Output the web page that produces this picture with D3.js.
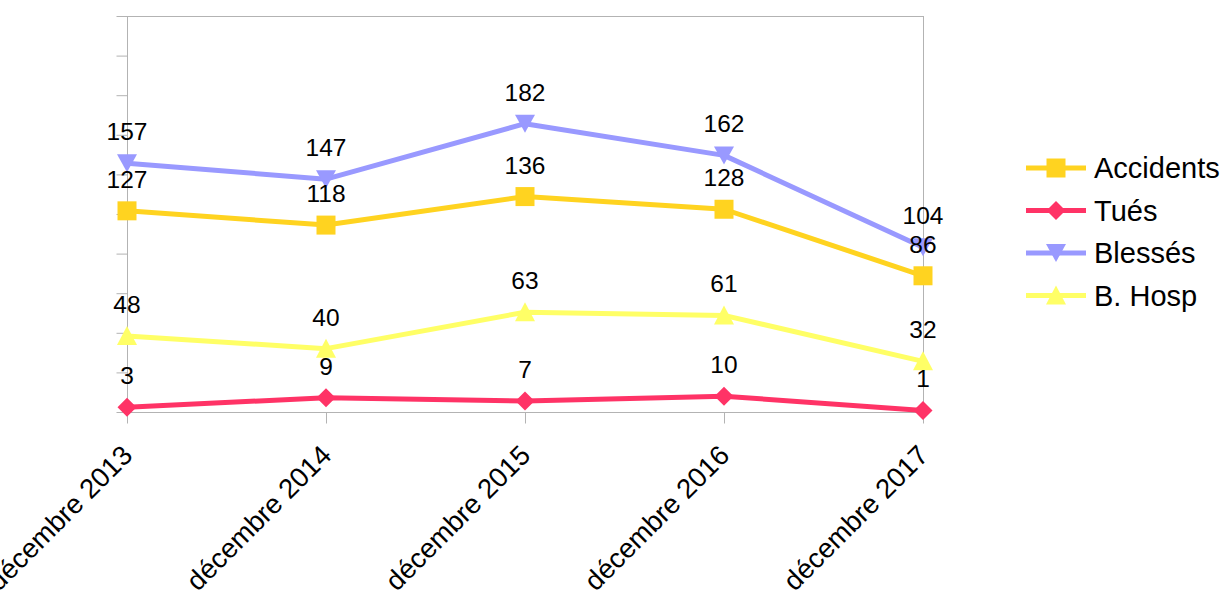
<!DOCTYPE html>
<html>
<head>
<meta charset="utf-8">
<script src="https://cdn.jsdelivr.net/npm/d3@7"></script>
<style>
  html, body { margin: 0; padding: 0; background: #fff; overflow: hidden; }
  svg { display: block; font-family: "Liberation Sans", Arial, sans-serif; }
</style>
</head>
<body>
<svg id="chart" width="1222" height="601"></svg>
<script>
const categories = ["décembre 2013", "décembre 2014", "décembre 2015", "décembre 2016", "décembre 2017"];
const seriesNames = ["Accidents", "Tués", "Blessés", "B. Hosp"];
const accidents = [127, 118, 136, 128, 86];
const tues = [3, 9, 7, 10, 1];
const blesses = [157, 147, 182, 162, 104];
const bHosp = [48, 40, 63, 61, 32];
const seriesColors = ["#ffd320", "#ff3366", "#9999ff", "#ffff66"];
const seriesMarkers = ["square", "diamond", "down", "up"];
const yTicks = [0, 25, 50, 75, 100, 125, 150, 175, 200, 225, 250];

const series = [accidents, tues, blesses, bHosp].map((vals, i) => ({
  name: seriesNames[i], values: vals, color: seriesColors[i], marker: seriesMarkers[i]
}));

const svg = d3.select("#chart");
const plot = { left: 127, right: 923, top: 16, bottom: 412 };

const x = d3.scalePoint().domain(categories).range([plot.left, plot.right]).padding(0);
const y = d3.scaleLinear().domain([0, 250]).range([plot.bottom, plot.top]);

const gridColor = "#b3b3b3";

// frame top & right
svg.append("line").attr("x1", plot.left).attr("x2", plot.right).attr("y1", plot.top + 0.5).attr("y2", plot.top + 0.5)
  .attr("stroke", gridColor).attr("stroke-width", 1);
svg.append("line").attr("x1", plot.right + 0.5).attr("x2", plot.right + 0.5).attr("y1", plot.top).attr("y2", plot.bottom)
  .attr("stroke", gridColor).attr("stroke-width", 1);

// y axis
const yAxis = d3.axisLeft(y).tickValues(yTicks).tickSize(11).tickFormat("");
const gy = svg.append("g").attr("transform", `translate(${plot.left + 0.5},0)`).call(yAxis);
gy.selectAll("path, line").attr("stroke", gridColor);
gy.select(".domain").attr("d", `M0,${plot.top}V${plot.bottom}`);

// x axis
const xAxis = d3.axisBottom(x).tickSize(11).tickFormat("");
const gx = svg.append("g").attr("transform", `translate(0,${plot.bottom + 0.5})`).call(xAxis);
gx.selectAll("path, line").attr("stroke", gridColor);
gx.select(".domain").attr("d", `M${plot.left},0H${plot.right}`);

// x labels rotated
svg.append("g").selectAll("text").data(categories).join("text")
  .attr("transform", d => `translate(${x(d) + 7},${plot.bottom + 45}) rotate(-45)`)
  .attr("text-anchor", "end")
  .attr("font-size", 27.5)
  .attr("fill", "#000")
  .text(d => d);

function markerPath(type, cx, cy) {
  const s = 9.5;
  switch (type) {
    case "square": return `M${cx - s},${cy - s}h${2 * s}v${2 * s}h${-2 * s}Z`;
    case "diamond": return `M${cx},${cy - s}L${cx + s},${cy}L${cx},${cy + s}L${cx - s},${cy}Z`;
    case "down": return `M${cx - 10},${cy - 9}L${cx + 10},${cy - 9}L${cx},${cy + 9}Z`;
    case "up": return `M${cx - 10},${cy + 9}L${cx + 10},${cy + 9}L${cx},${cy - 10}Z`;
  }
}

const line = d3.line().x((d, i) => x(categories[i])).y(d => y(d));

series.forEach(s => {
  const g = svg.append("g");
  g.append("path").attr("d", line(s.values)).attr("fill", "none")
    .attr("stroke", s.color).attr("stroke-width", 5).attr("stroke-linejoin", "round");
  g.selectAll("path.m").data(s.values).join("path").attr("class", "m")
    .attr("d", (d, i) => markerPath(s.marker, x(categories[i]), y(d)))
    .attr("fill", s.color);
});

// data labels
series.forEach(s => {
  svg.append("g").selectAll("text").data(s.values).join("text")
    .attr("x", (d, i) => x(categories[i]))
    .attr("y", d => y(d) - 23)
    .attr("text-anchor", "middle")
    .attr("font-size", 24.5)
    .attr("fill", "#000")
    .text(d => d);
});

// legend
const legend = svg.append("g");
series.forEach((s, i) => {
  const ly = 168 + i * 42.5;
  legend.append("line").attr("x1", 1026).attr("x2", 1086).attr("y1", ly).attr("y2", ly)
    .attr("stroke", s.color).attr("stroke-width", 5);
  legend.append("path").attr("d", markerPath(s.marker, 1056, ly)).attr("fill", s.color);
  legend.append("text").attr("x", 1094).attr("y", ly + 10)
    .attr("font-size", 29).attr("fill", "#000").text(s.name);
});
</script>
</body>
</html>
